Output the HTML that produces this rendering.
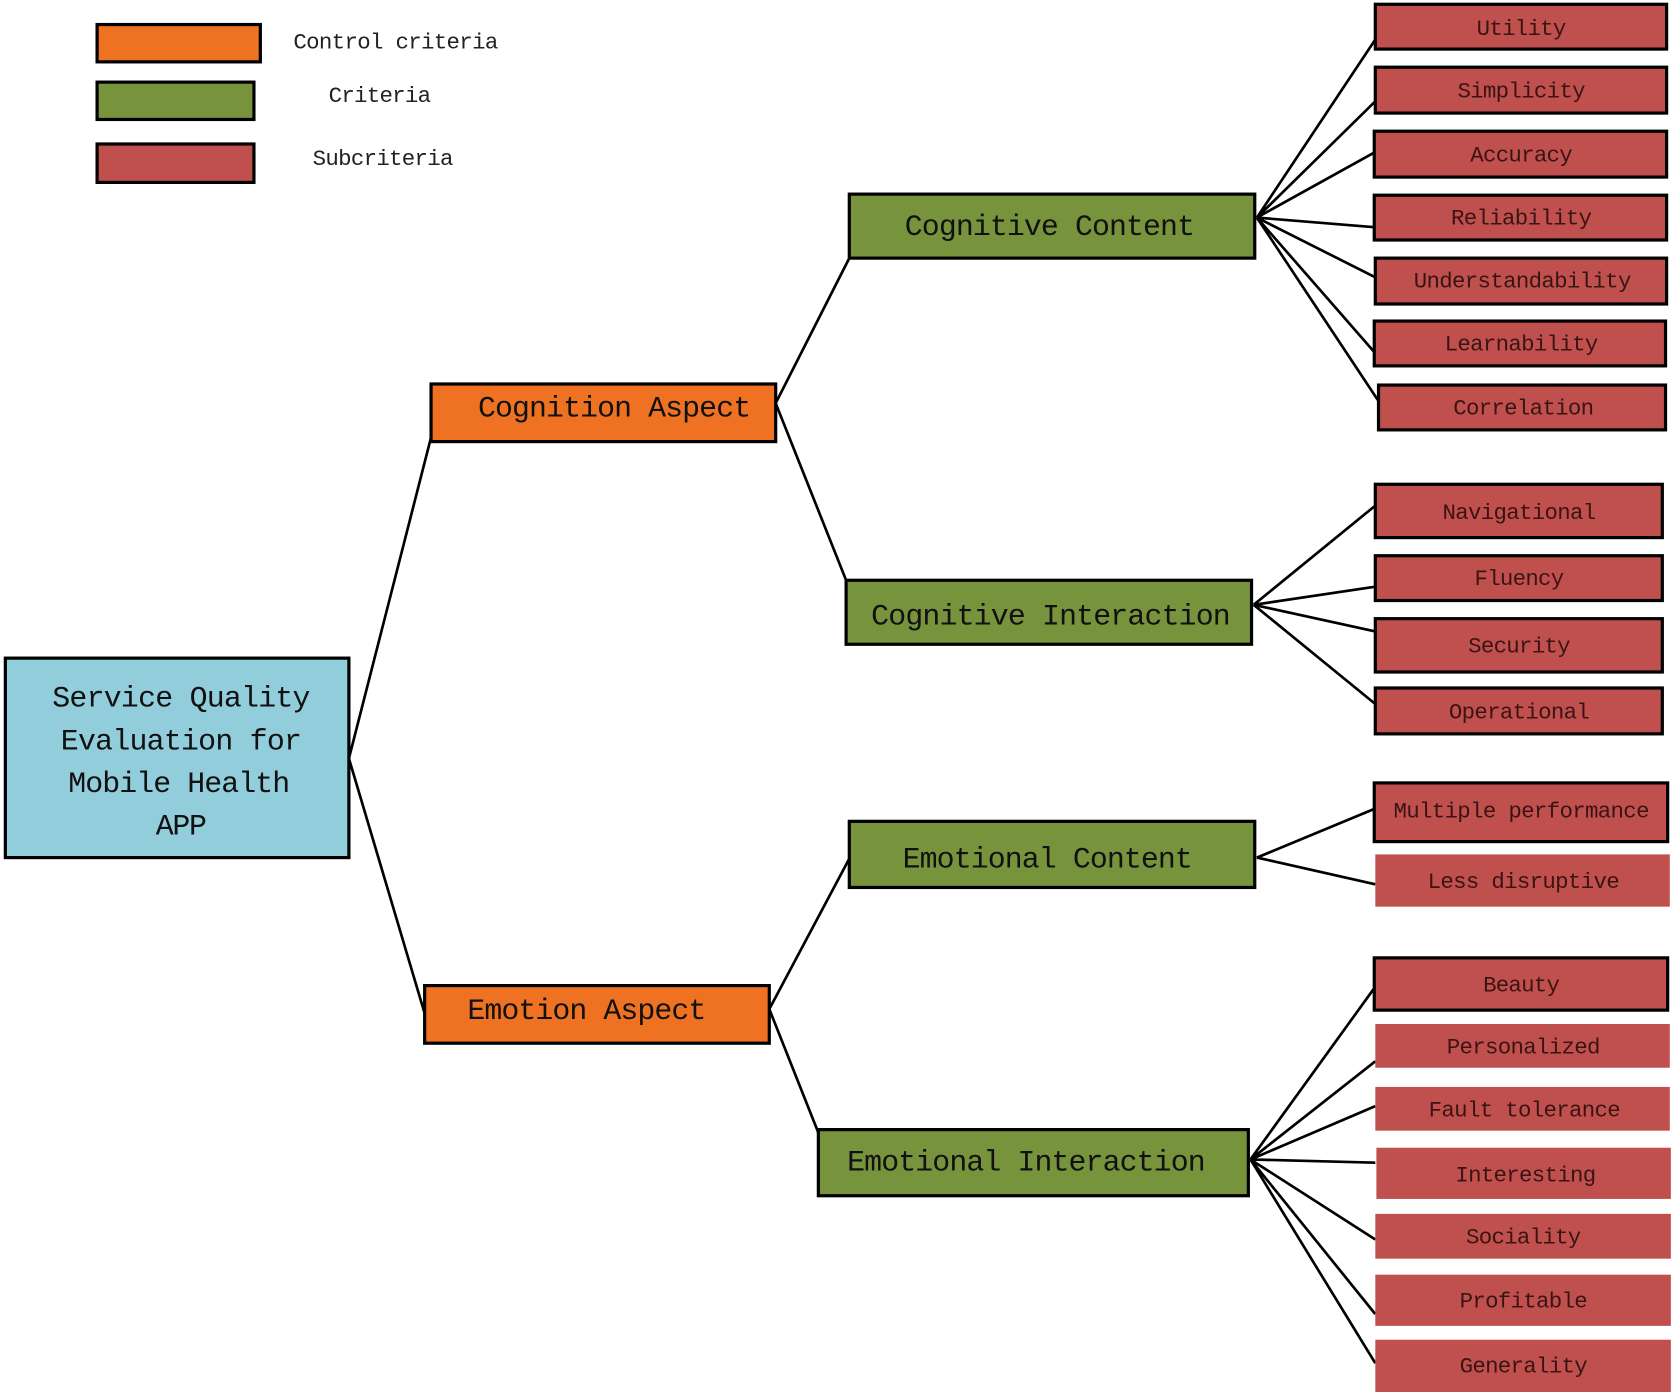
<!DOCTYPE html>
<html><head><meta charset="utf-8"><style>html,body{margin:0;padding:0;background:#fff}svg{display:block}</style></head><body>
<svg width="1673" height="1392" viewBox="0 0 1568 1305" preserveAspectRatio="none" xmlns="http://www.w3.org/2000/svg" font-family="Liberation Mono, DejaVu Sans Mono, monospace">
<g stroke="#000" stroke-width="2.5" fill="none">
<path d="M327 711L404 410M327 711L398 950"/>
<path d="M727 378L796 242M727 378L793 544"/>
<path d="M721 946L796 805M721 946L767 1062"/>
<path d="M1178 204L1289 37M1178 204L1289 95M1178 204L1288 143M1178 204L1288 213M1178 204L1289 260M1178 204L1288 330M1178 204L1292 376"/>
<path d="M1175 567L1289 474M1175 567L1289 550M1175 567L1289 592M1175 567L1289 660"/>
<path d="M1178 804L1289 758M1178 804L1289 829"/>
<path d="M1172 1087L1289 925M1172 1087L1289 995M1172 1087L1289 1037M1172 1087L1289 1090M1172 1087L1289 1162M1172 1087L1289 1232M1172 1087L1289 1278"/>
</g>
<g stroke="#000" stroke-width="3">
<rect x="91" y="23" width="153" height="35" fill="#EE7222"/>
<rect x="91" y="77" width="147" height="35" fill="#77933C"/>
<rect x="91" y="135" width="147" height="36" fill="#C0504D"/>
<rect x="5" y="617" width="322" height="187" fill="#92CDDC"/>
<rect x="404" y="360" width="323" height="54" fill="#EE7222"/>
<rect x="398" y="924" width="323" height="54" fill="#EE7222"/>
<rect x="796" y="182" width="380" height="60" fill="#77933C"/>
<rect x="793" y="544" width="380" height="60" fill="#77933C"/>
<rect x="796" y="770" width="380" height="62" fill="#77933C"/>
<rect x="767" y="1059" width="403" height="62" fill="#77933C"/>
<g fill="#C0504D">
<rect x="1289" y="4" width="273" height="42"/>
<rect x="1289" y="63" width="273" height="43"/>
<rect x="1288" y="123" width="274" height="43"/>
<rect x="1288" y="183" width="274" height="42"/>
<rect x="1289" y="242" width="273" height="43"/>
<rect x="1288" y="301" width="273" height="42"/>
<rect x="1292" y="361" width="269" height="42"/>
<rect x="1289" y="454" width="269" height="50"/>
<rect x="1289" y="521" width="269" height="42"/>
<rect x="1289" y="580" width="269" height="50"/>
<rect x="1289" y="645" width="269" height="43"/>
<rect x="1288" y="734" width="275" height="55"/>
<rect x="1288" y="898" width="275" height="49"/>
</g>
</g>
<g fill="#C0504D">
<rect x="1289" y="801" width="276" height="49"/>
<rect x="1289" y="960" width="276" height="41"/>
<rect x="1289" y="1019" width="276" height="41"/>
<rect x="1290" y="1076" width="276" height="48"/>
<rect x="1289" y="1138" width="277" height="42"/>
<rect x="1289" y="1195" width="277" height="48"/>
<rect x="1289" y="1256" width="277" height="49"/>
</g>
<g fill="#222" font-size="21" dominant-baseline="central" lengthAdjust="spacingAndGlyphs">
<text x="275" y="40" textLength="192">Control criteria</text>
<text x="308" y="90" textLength="96">Criteria</text>
<text x="293" y="149" textLength="132">Subcriteria</text>
</g>
<g fill="#111" font-size="28" dominant-baseline="central" text-anchor="middle">
<text x="170" y="655" textLength="242">Service Quality</text>
<text x="170" y="695" textLength="226">Evaluation for</text>
<text x="168" y="735" textLength="208">Mobile Health</text>
<text x="170" y="775" textLength="48">APP</text>
<text x="576" y="383" textLength="256">Cognition Aspect</text>
<text x="550" y="948" textLength="224">Emotion Aspect</text>
<text x="984" y="213" textLength="272">Cognitive Content</text>
<text x="985" y="578" textLength="337">Cognitive Interaction</text>
<text x="982" y="806" textLength="272">Emotional Content</text>
<text x="962" y="1090" textLength="336">Emotional Interaction</text>
</g>
<g fill="#3a1414" font-size="21" dominant-baseline="central" text-anchor="middle">
<text x="1426" y="27" textLength="84">Utility</text>
<text x="1426" y="86" textLength="120">Simplicity</text>
<text x="1426" y="146" textLength="96">Accuracy</text>
<text x="1426" y="205" textLength="132">Reliability</text>
<text x="1427" y="264" textLength="204">Understandability</text>
<text x="1426" y="323" textLength="144">Learnability</text>
<text x="1428" y="383" textLength="132">Correlation</text>
<text x="1424" y="481" textLength="144">Navigational</text>
<text x="1424" y="543" textLength="84">Fluency</text>
<text x="1424" y="606" textLength="96">Security</text>
<text x="1424" y="668" textLength="132">Operational</text>
<text x="1426" y="761" textLength="240">Multiple performance</text>
<text x="1428" y="827" textLength="180">Less disruptive</text>
<text x="1426" y="924" textLength="72">Beauty</text>
<text x="1428" y="982" textLength="144">Personalized</text>
<text x="1429" y="1041" textLength="180">Fault tolerance</text>
<text x="1430" y="1102" textLength="132">Interesting</text>
<text x="1428" y="1160" textLength="108">Sociality</text>
<text x="1428" y="1220" textLength="120">Profitable</text>
<text x="1428" y="1281" textLength="120">Generality</text>
</g>
</svg>
</body></html>
